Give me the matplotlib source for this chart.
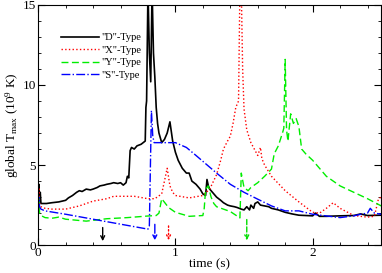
import matplotlib
matplotlib.use('Agg')
import matplotlib.pyplot as plt
from matplotlib.ticker import MultipleLocator

plt.rcParams['font.family'] = ['Liberation Serif', 'DejaVu Serif']
plt.rcParams['mathtext.fontset'] = 'custom'
plt.rcParams['mathtext.rm'] = 'Liberation Serif'
plt.rcParams['mathtext.it'] = 'Liberation Serif:italic'

# "D"-Type
t_d = [0.0, 0.005, 0.01, 0.015, 0.02, 0.03, 0.06, 0.1, 0.15, 0.2, 0.22, 0.25, 0.28, 0.3, 0.32,
       0.35, 0.38, 0.4, 0.43, 0.45, 0.48, 0.5, 0.53, 0.55, 0.58, 0.6, 0.62, 0.64, 0.65, 0.66,
       0.67, 0.68, 0.7, 0.72, 0.75, 0.78, 0.785, 0.79, 0.8, 0.81, 0.82, 0.83, 0.84, 0.85, 0.86,
       0.87, 0.88, 0.9, 0.92, 0.94, 0.96, 0.98, 1.0, 1.02, 1.05, 1.08, 1.1, 1.12, 1.15, 1.18,
       1.2, 1.22, 1.23, 1.24, 1.25, 1.27, 1.3, 1.33, 1.35, 1.38, 1.4, 1.43, 1.45, 1.48, 1.5,
       1.52, 1.54, 1.55, 1.57, 1.58, 1.6, 1.62, 1.65, 1.68, 1.7, 1.75, 1.8, 1.85, 1.9, 1.95,
       2.0, 2.02, 2.05, 2.1, 2.2, 2.3, 2.35, 2.4, 2.5]
y_d = [2.6, 3.8, 2.8, 3.3, 2.6, 2.6, 2.6, 2.65, 2.7, 2.8, 2.95, 3.1, 3.3, 3.4, 3.35,
       3.5, 3.45, 3.5, 3.6, 3.7, 3.75, 3.8, 3.85, 3.9, 3.85, 3.9, 3.75, 3.9, 4.3, 4.2,
       5.9, 6.1, 6.0, 6.2, 6.3, 6.5, 8.6, 9.0, 16.0, 12.0, 10.2, 16.0, 12.0, 10.5, 8.6,
       7.6, 7.0, 6.4, 6.6, 7.0, 7.7, 6.5, 5.8, 5.3, 4.8, 4.5, 4.5, 4.0, 3.8, 3.5,
       3.2, 3.1, 4.1, 3.7, 3.5, 3.3, 3.0, 2.8, 2.65, 2.5, 2.45, 2.4, 2.35, 2.25, 2.2,
       2.4, 2.2, 2.5, 2.3, 2.6, 2.7, 2.5, 2.45, 2.4, 2.3, 2.2, 2.05, 1.95, 1.87, 1.85,
       1.83, 2.0, 1.8, 1.8, 1.83, 1.85, 1.95, 1.85, 1.87]

# "X"-Type
t_x = [0.0, 0.005, 0.01, 0.02, 0.05, 0.1, 0.2, 0.3, 0.4, 0.5, 0.55, 0.6, 0.7, 0.8, 0.85,
       0.9, 0.92, 0.94, 0.96, 0.98, 1.0, 1.1, 1.2, 1.25, 1.3, 1.33, 1.35, 1.38, 1.4, 1.42,
       1.44, 1.46, 1.47, 1.48, 1.49, 1.5, 1.52, 1.55, 1.6, 1.62, 1.63, 1.65, 1.7, 1.8,
       1.9, 2.0, 2.05, 2.1, 2.15, 2.2, 2.3, 2.4, 2.45, 2.48, 2.5]
y_x = [2.5, 3.6, 2.6, 2.4, 2.3, 2.25, 2.25, 2.45, 2.75, 2.9, 3.05, 3.05, 3.05, 2.9, 2.9,
       3.2, 4.0, 4.8, 3.7, 3.3, 3.1, 2.95, 3.1, 3.5, 4.4, 5.3, 6.0, 6.5, 6.8, 7.6,
       8.6, 9.0, 16.0, 16.0, 11.0, 8.5, 7.2, 6.4, 5.6, 6.1, 5.4, 5.0, 4.3, 3.4,
       2.7, 2.05, 2.0, 2.3, 2.65, 2.3, 1.85, 1.75, 1.8, 2.9, 3.0]

# "Y"-Type
t_y = [0.0, 0.005, 0.01, 0.02, 0.05, 0.1, 0.15, 0.2, 0.35, 0.5, 0.65, 0.8, 0.86, 0.88, 0.9,
       0.95, 1.0, 1.1, 1.2, 1.21, 1.22, 1.24, 1.26, 1.28, 1.3, 1.4, 1.47, 1.48, 1.5, 1.53,
       1.55, 1.6, 1.65, 1.7, 1.72, 1.75, 1.78, 1.79, 1.8, 1.81, 1.82, 1.84, 1.86, 1.88, 1.9,
       1.92, 1.93, 1.95, 2.0, 2.1, 2.2, 2.3, 2.4, 2.5]
y_y = [2.3, 3.0, 2.0, 1.85, 1.72, 1.68, 1.75, 1.62, 1.5, 1.65, 1.72, 1.82, 1.85, 2.0, 2.9,
       2.35, 2.05, 1.8, 1.85, 2.3, 3.5, 3.7, 3.0, 2.6, 2.4, 2.1, 1.7, 4.5, 3.6, 3.4,
       3.6, 3.9, 4.3, 4.75, 5.7, 6.2, 7.0, 7.3, 11.6, 7.2, 6.5, 8.2, 7.6, 7.9, 7.4,
       6.0, 5.9, 5.7, 5.3, 4.3, 3.7, 3.3, 2.9, 2.45]

# "S"-Type
t_s = [0.0, 0.005, 0.01, 0.02, 0.05, 0.2, 0.4, 0.6, 0.8, 0.81, 0.825, 0.835, 0.845, 0.86,
       1.0, 1.08, 1.15, 1.3, 1.4, 1.5, 1.6, 1.7, 1.8, 1.9, 2.0, 2.2, 2.3, 2.35, 2.4, 2.42,
       2.45, 2.5]
y_s = [2.5, 3.0, 2.4, 2.25, 2.14, 1.93, 1.62, 1.31, 1.0, 1.2, 8.4, 6.8, 6.4, 6.4,
       6.4, 6.1, 5.6, 4.5, 3.8, 3.3, 2.87, 2.45, 2.14, 2.14, 1.93, 1.72, 1.83, 1.93, 2.0, 2.3,
       2.0, 1.93]

# arrows: (time, start, end, colour, linestyle)
arr_t = [0.47, 0.85, 0.95, 1.52]
arr_y0 = [1.1, 1.3, 1.2, 1.6]
arr_y1 = [0.25, 0.3, 0.3, 0.3]
arr_c = ['black', 'blue', 'red', '#00dd00']
arr_ls = ['-', '-.', ':', '--']

fig, ax = plt.subplots(figsize=(3.82, 2.73), dpi=100)

ax.plot(t_d, y_d, color='black', lw=1.2, label='"D"-Type')
ax.plot(t_x, y_x, color='red', lw=1.0, ls=':', label='"X"-Type')
ax.plot(t_y, y_y, color='#00ee00', lw=1.0, ls='--', dashes=(5, 2.5), label='"Y"-Type')
ax.plot(t_s, y_s, color='blue', lw=1.0, ls='-.', label='"S"-Type')

for t, a, b, c, ls in zip(arr_t, arr_y0, arr_y1, arr_c, arr_ls):
    ax.annotate('', xy=(t, b), xytext=(t, a),
                arrowprops=dict(arrowstyle='->', color=c, lw=1.0, ls=ls,
                                mutation_scale=7, shrinkA=0, shrinkB=0))

ax.set_xlim(0, 2.5)
ax.set_ylim(0, 15)
ax.xaxis.set_major_locator(MultipleLocator(1))
ax.xaxis.set_minor_locator(MultipleLocator(0.2))
ax.yaxis.set_major_locator(MultipleLocator(5))
ax.yaxis.set_minor_locator(MultipleLocator(1))
ax.tick_params(which='both', direction='in', top=True, right=True, labelsize=9.5, pad=1.5)
ax.tick_params(which='major', length=5)
ax.tick_params(which='minor', length=2.5)

ax.set_xlabel('time (s)', fontsize=9.5, labelpad=-0.5)
ax.set_ylabel(r'global T$_{\rm max}$ (10$^9$ K)', fontsize=9.5, labelpad=1)

ax.legend(loc='upper left', bbox_to_anchor=(0.055, 0.9), frameon=False, fontsize=7.5,
          handlelength=3.6, handletextpad=0.3, labelspacing=0.3, borderaxespad=0)

fig.subplots_adjust(left=0.1, right=0.998, top=0.982, bottom=0.102)
fig.savefig('out.png', dpi=100)
